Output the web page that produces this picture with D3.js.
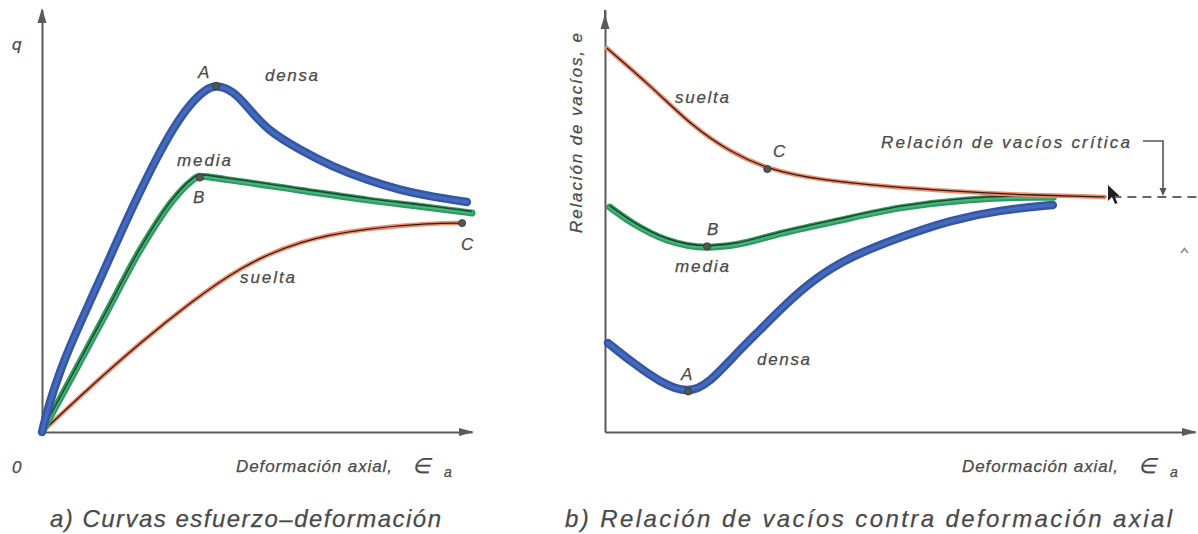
<!DOCTYPE html>
<html><head><meta charset="utf-8">
<script src="https://cdn.jsdelivr.net/npm/d3@7/dist/d3.min.js"></script>
<style>
html,body{margin:0;padding:0;background:#fff;}
svg text{font-family:"Liberation Sans",Arial,sans-serif;font-style:italic;fill:#4a4a4a;stroke:#4a4a4a;stroke-width:0.25;}
</style></head>
<body>
<svg id="c" width="1198" height="534"></svg>
<script>
// ---------- DATA (strain %, value %) ----------
// Panel a) q vs axial strain
const aDensa  = [[0,0],[1.6,6.5],[4.2,14.5],[7.2,22.0],[11.2,31.0],[15.1,39.8],[18.8,48.3],[22.8,57.0],[26.7,65.0],[30.5,72.0],[34.4,77.8],[38.4,81.5],[40.5,82.2],[44.4,81.0],[48.4,76.3],[52.3,71.6],[60.0,66.8],[67.7,62.8],[75.6,59.7],[83.3,57.3],[90.9,55.7],[98.8,54.5]];
const aMedia  = [[0,0],[7.2,13.5],[15.1,28.5],[22.8,43.1],[30.5,55.0],[34.4,59.2],[36.7,60.6],[43.0,59.8],[60.0,57.3],[75.6,55.0],[90.9,53.1],[100,51.9]];
const aSuelta = [[0,0],[11.2,10.7],[22.8,21.1],[34.4,30.6],[46.0,39.1],[60.0,45.5],[75.6,48.3],[90.9,49.5],[97.7,49.5]];
const aPoints = [{k:"A",p:[40.5,82.0]},{k:"B",p:[36.7,60.3]},{k:"C",p:[97.7,49.5]}];
// Panel b) void ratio vs axial strain
const bSuelta = [[0.3,91.0],[7.6,82.2],[14.9,72.3],[21.2,66.4],[27.5,62.3],[36.4,59.7],[48.3,58.1],[58.5,57.1],[70.3,56.2],[84.7,55.7]];
const bMedia  = [[0.8,53.3],[4.7,49.5],[10.5,45.5],[17.3,43.8],[21.7,44.3],[30.2,47.2],[38.6,49.8],[50.0,53.1],[61.4,55.0],[72.5,55.6],[76.0,55.6]];
const bDensa  = [[0.5,21.1],[4.7,16.4],[9.3,11.8],[14.1,9.0],[17.8,11.8],[21.7,17.8],[26.3,24.2],[30.8,30.6],[35.9,36.7],[41.5,41.5],[50.0,46.2],[58.5,50.2],[66.9,52.6],[75.9,53.8]];
const bPoints = [{k:"A",p:[14.1,9.6]},{k:"B",p:[17.3,44.0]},{k:"C",p:[27.5,62.3]}];
const eCrit = 55.7;

const svg = d3.select("#c");

function arrowHead(g, x, y, dir){
  const s = dir==="up" ? `M${x},${y} L${x-4.5},${y+15} L${x+4.5},${y+15} Z` : `M${x},${y} L${x-15},${y-4} L${x-15},${y+4} Z`;
  g.append("path").attr("d", s).attr("fill","#5a5a5a");
}

function panel(xr, yr, tipY, tipX){
  const x = d3.scaleLinear().domain([0,100]).range(xr);
  const y = d3.scaleLinear().domain([0,100]).range(yr);
  const g = svg.append("g");
  g.append("g").attr("transform",`translate(0,${y(0)})`)
    .call(d3.axisBottom(x).ticks(0).tickSize(0).tickSizeOuter(0))
    .call(s=>s.select(".domain").attr("stroke","#5a5a5a").attr("stroke-width",2));
  g.append("g").attr("transform",`translate(${x(0)},0)`)
    .call(d3.axisLeft(y).ticks(0).tickSize(0).tickSizeOuter(0))
    .call(s=>s.select(".domain").attr("stroke","#5a5a5a").attr("stroke-width",2));
  g.append("line").attr("x1",x(0)).attr("x2",x(0)).attr("y1",y(100)).attr("y2",tipY+10).attr("stroke","#5a5a5a").attr("stroke-width",2);
  g.append("line").attr("x1",x(100)).attr("x2",tipX-10).attr("y1",y(0)).attr("y2",y(0)).attr("stroke","#5a5a5a").attr("stroke-width",2);
  arrowHead(g, x(0), tipY, "up");
  arrowHead(g, tipX, y(0), "right");
  return {x,y,g};
}

function curve(P, data, kind){
  const cv = kind==="media" ? d3.curveMonotoneX : d3.curveBasis;
  const line = d3.line().x(d=>P.x(d[0])).y(d=>P.y(d[1])).curve(cv);
  const d = line(data);
  const g = P.g;
  if(kind==="densa"){
    g.append("path").attr("d",d).attr("fill","none").attr("stroke","#3556a6").attr("stroke-width",8.5).attr("stroke-linecap","round");
    g.append("path").attr("d",d).attr("fill","none").attr("stroke","#4b77c3").attr("stroke-width",3.5).attr("stroke-linecap","round").attr("opacity",0.65);
  } else if(kind==="media"){
    g.append("path").attr("d",d).attr("fill","none").attr("stroke","#2f9a5c").attr("stroke-width",7).attr("stroke-linecap","round");
    g.append("path").attr("d",d).attr("fill","none").attr("stroke","#4cbd8c").attr("stroke-width",3).attr("stroke-linecap","round").attr("opacity",0.7);
    g.append("path").attr("d",d).attr("fill","none").attr("stroke","#1a2e1e").attr("stroke-width",1.4).attr("transform","translate(0,-1.5)").attr("opacity",0.85);
  } else {
    g.append("path").attr("d",d).attr("fill","none").attr("stroke","#f08c6c").attr("stroke-width",4.5).attr("stroke-linecap","round");
    g.append("path").attr("d",d).attr("fill","none").attr("stroke","#2b1d17").attr("stroke-width",1.3);
  }
}

function dots(P, pts){
  pts.forEach(o=>{
    P.g.append("circle").attr("cx",P.x(o.p[0])).attr("cy",P.y(o.p[1])).attr("r",3.6)
      .attr("fill","#55574f").attr("stroke","#333").attr("stroke-width",0.8);
  });
}

function txt(x,y,s,size,opts={}){
  const t = svg.append("text").attr("x",x).attr("y",y).attr("font-size",size).text(s);
  if(opts.len) t.attr("textLength",opts.len).attr("lengthAdjust","spacing");
  if(opts.rot) t.attr("transform",`rotate(${opts.rot},${x},${y})`);
  if(opts.anchor) t.attr("text-anchor",opts.anchor);
  return t;
}

// ---------- Panel a ----------
const Pa = panel([42,472],[432,10], 8, 474);
curve(Pa, aSuelta, "suelta");
curve(Pa, aMedia, "media");
curve(Pa, aDensa, "densa");
dots(Pa, aPoints);

txt(12,50,"q",17);
txt(12,473,"0",17);
txt(236,472,"Deformación axial,",17,{len:156});
txt(412,473,"∈",21);
txt(444,477,"a",14);
txt(50,527,"a) Curvas esfuerzo–deformación",24,{len:391});
txt(198,78,"A",17);
txt(265,81,"densa",17,{len:53});
txt(177,166,"media",17,{len:54});
txt(193,203,"B",17);
txt(240,283,"suelta",17,{len:55});
txt(461,250,"C",17);

// ---------- Panel b ----------
const Pb = panel([605,1195],[432,10], 14, 1197);
curve(Pb, bDensa, "densa");
curve(Pb, bMedia, "media");
curve(Pb, bSuelta, "suelta");
dots(Pb, bPoints);

const yc = Pb.y(eCrit);
Pb.g.append("line").attr("x1",Pb.x(86)).attr("x2",1198).attr("y1",yc).attr("y2",yc)
  .attr("stroke","#666").attr("stroke-width",2).attr("stroke-dasharray","9,6");
Pb.g.append("path").attr("d",`M1143,141 L1163,141 L1163,${yc-6}`).attr("fill","none").attr("stroke","#555").attr("stroke-width",1.6);
Pb.g.append("path").attr("d",`M1163,${yc-1} L1159.5,${yc-9} L1166.5,${yc-9} Z`).attr("fill","#555");
Pb.g.append("path").attr("d",`M1108,185 L1108,201 L1112,197 L1115,204 L1117.5,203 L1114.5,196 L1119.5,196 Z`).attr("fill","#222");
Pb.g.append("path").attr("d","M1181,253 L1184.5,248.5 L1188,253").attr("fill","none").attr("stroke","#888").attr("stroke-width",1.5);

txt(582,233,"Relación de vacíos, e",17,{len:200,rot:-90});
txt(675,103,"suelta",17,{len:54});
txt(773,157,"C",17);
txt(707,235,"B",17);
txt(675,272,"media",17,{len:54});
txt(681,380,"A",17);
txt(757,365,"densa",17,{len:53});
txt(881,148,"Relación de vacíos crítica",17,{len:249});
txt(962,472,"Deformación axial,",17,{len:156});
txt(1138,473,"∈",21);
txt(1170,477,"a",14);
txt(565,527,"b) Relación de vacíos contra deformación axial",24,{len:607});
</script>
</body></html>
